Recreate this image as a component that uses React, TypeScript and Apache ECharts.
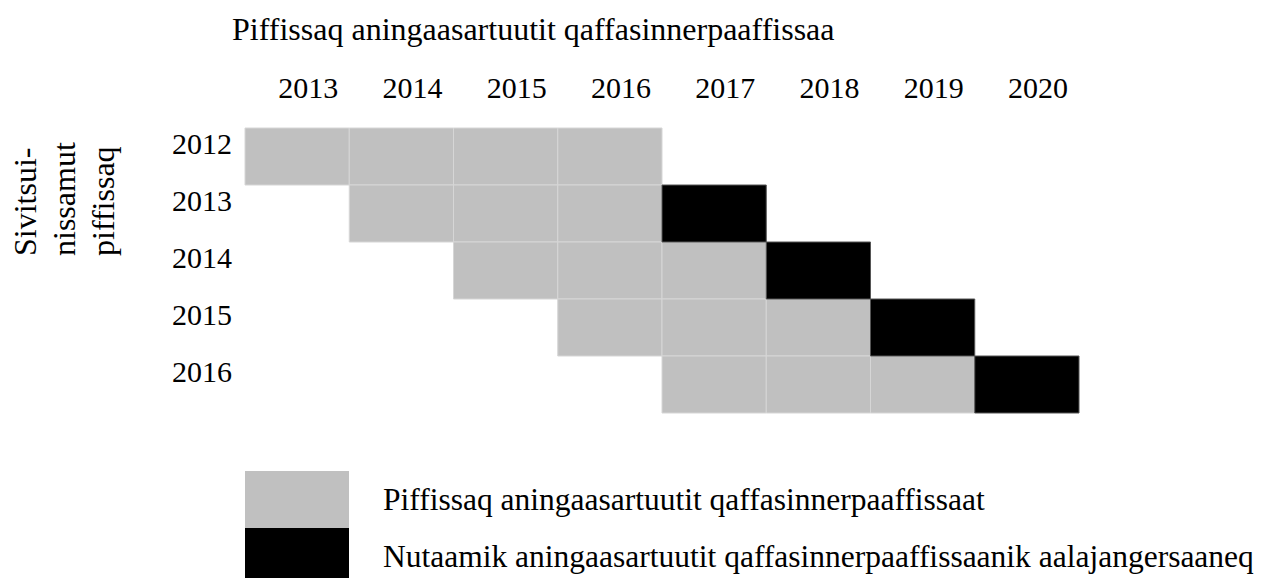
import React, { useEffect, useRef } from "react";
import * as echarts from "echarts";

const periodYears = ["2013", "2014", "2015", "2016", "2017", "2018", "2019", "2020"];
const extensionYears = ["2012", "2013", "2014", "2015", "2016"];

// [period year, extension year]
const grayCells: [string, string][] = [
  ["2013", "2012"], ["2014", "2012"], ["2015", "2012"], ["2016", "2012"],
  ["2014", "2013"], ["2015", "2013"], ["2016", "2013"],
  ["2015", "2014"], ["2016", "2014"], ["2017", "2014"],
  ["2016", "2015"], ["2017", "2015"], ["2018", "2015"],
  ["2017", "2016"], ["2018", "2016"], ["2019", "2016"],
];
const blackCells: [string, string][] = [
  ["2017", "2013"], ["2018", "2014"], ["2019", "2015"], ["2020", "2016"],
];

const titleText = "Piffissaq aningaasartuutit qaffasinnerpaaffissaa";
const yAxisName = "Sivitsui-\nnissamut\npiffissaq";
const grayName = "Piffissaq aningaasartuutit qaffasinnerpaaffissaat";
const blackName = "Nutaamik aningaasartuutit qaffasinnerpaaffissaanik aalajangersaaneq";

const FONT = "'Liberation Serif', 'Times New Roman', serif";

export default function App() {
  const ref = useRef<HTMLDivElement>(null);
  useEffect(() => {
    document.body.style.margin = "0";
    if (!ref.current) return;
    const chart = echarts.init(ref.current, undefined, { renderer: "svg" });
    const toData = (cells: [string, string][]) =>
      cells.map(([p, e]) => [periodYears.indexOf(p), extensionYears.indexOf(e)]);
    const makeRender = (fill: string, stroke: string) => (params: any, api: any) => {
      const c = api.coord([api.value(0), api.value(1)]);
      const s = api.size([1, 1]);
      return {
        type: "rect",
        shape: { x: c[0] - s[0] / 2, y: c[1] - s[1] / 2, width: s[0], height: s[1] },
        style: { fill, stroke, lineWidth: 1 },
      };
    };
    chart.setOption({
      animation: false,
      textStyle: { fontFamily: FONT, color: "#000" },
      title: {
        text: titleText,
        left: 227,
        top: 8,
        textStyle: { fontFamily: FONT, fontSize: 32, fontWeight: "normal", color: "#000" },
      },
      grid: { left: 245, top: 128, width: 834, height: 285 },
      xAxis: {
        type: "category",
        data: periodYears,
        position: "top",
        axisLine: { show: false },
        axisTick: { show: false },
        splitLine: { show: false },
        axisLabel: {
          fontFamily: FONT,
          fontSize: 30,
          color: "#000",
          margin: 26,
          padding: [0, 0, 0, 22],
        },
      },
      yAxis: {
        type: "category",
        data: extensionYears,
        inverse: true,
        axisLine: { show: false },
        axisTick: { show: false },
        splitLine: { show: false },
        axisLabel: {
          fontFamily: FONT,
          fontSize: 30,
          color: "#000",
          margin: 13,
          verticalAlign: "bottom",
          lineHeight: 27,
        },
      },
      legend: {
        orient: "vertical",
        left: 245,
        top: 471,
        height: 200,
        itemWidth: 104,
        itemHeight: 57,
        itemGap: 0,
        icon: "rect",
        padding: 0,
        textStyle: { fontFamily: FONT, fontSize: 31.5, color: "#000", padding: [0, 0, 4, 29] },
        data: [grayName, blackName],
      },
      graphic: [
        {
          type: "text",
          x: 64,
          y: 256,
          rotation: Math.PI / 2,
          style: {
            text: yAxisName,
            fontFamily: FONT,
            fontSize: 32,
            lineHeight: 39,
            fill: "#000",
            align: "left",
            verticalAlign: "middle",
          },
        },
      ],
      series: [
        {
          name: grayName,
          type: "custom",
          renderItem: makeRender("#c0c0c0", "#d6d6d6"),
          data: toData(grayCells),
          itemStyle: { color: "#c0c0c0" },
          encode: { x: 0, y: 1 },
          silent: true,
        },
        {
          name: blackName,
          type: "custom",
          renderItem: makeRender("#000000", "#555555"),
          data: toData(blackCells),
          itemStyle: { color: "#000000" },
          encode: { x: 0, y: 1 },
          silent: true,
        },
      ],
    });
    return () => chart.dispose();
  }, []);
  return <div ref={ref} style={{ width: 1269, height: 578 }} />;
}
